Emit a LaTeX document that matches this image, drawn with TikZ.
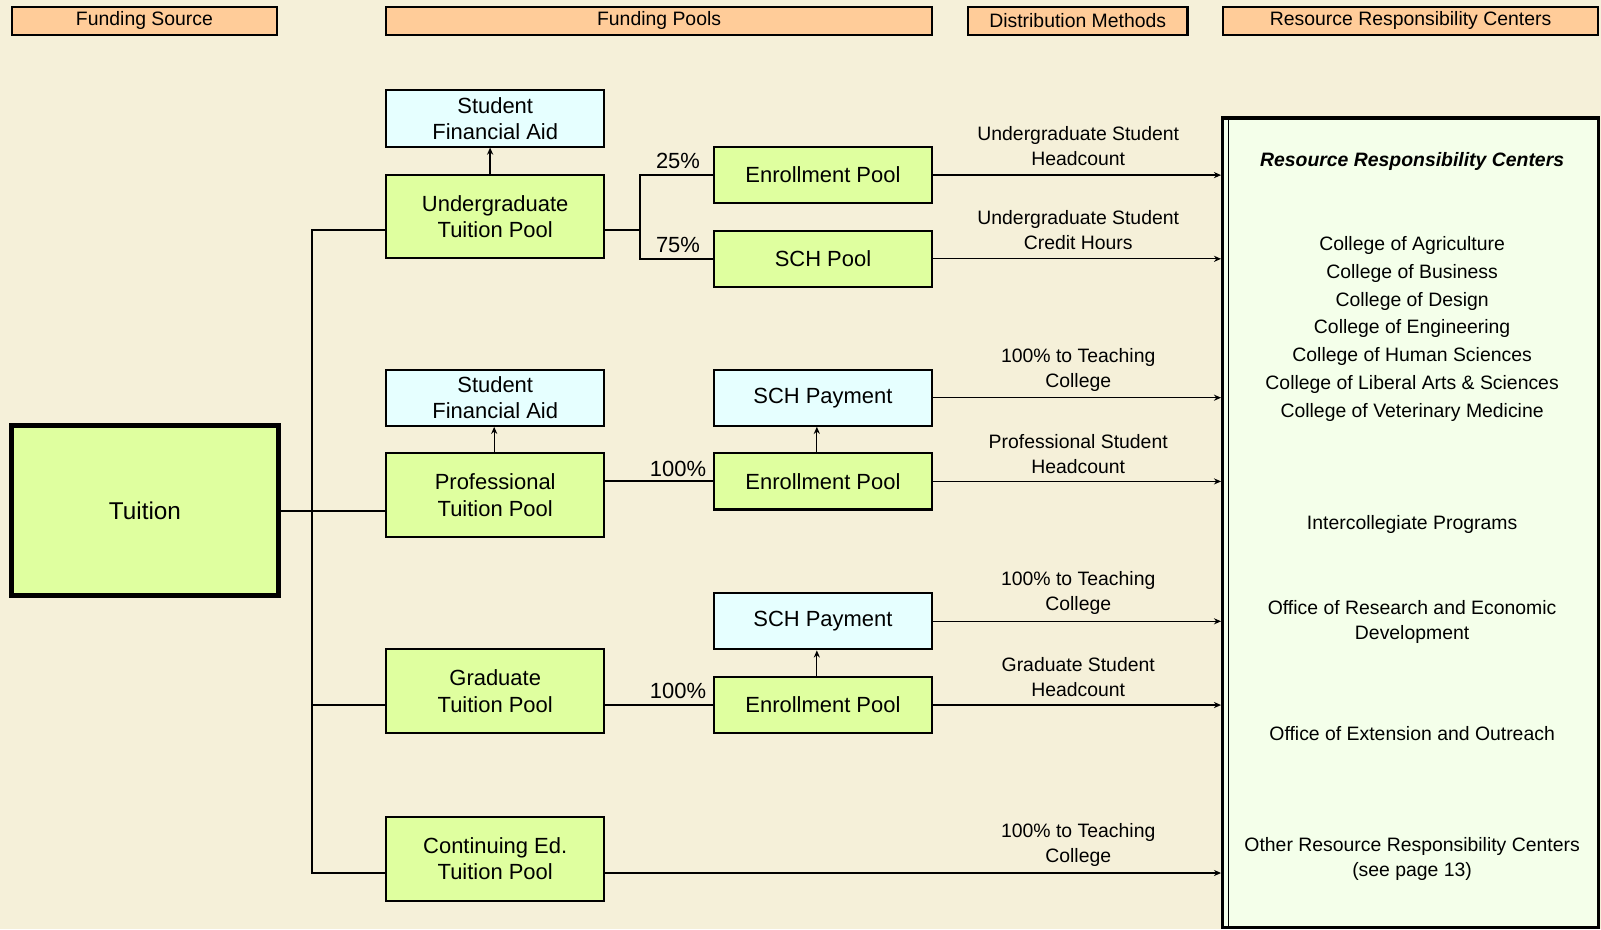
\documentclass[tikz,border=0pt]{standalone}
\usepackage{fontspec}
\setmainfont{Liberation Sans}
\usetikzlibrary{arrows.meta}
\definecolor{bgc}{HTML}{F5F0D9}
\definecolor{hdr}{HTML}{FFCC99}
\definecolor{lime}{HTML}{DFFF9F}
\definecolor{cyanb}{HTML}{E6FFFF}
\definecolor{rrcf}{HTML}{F4FFEA}
\tikzset{
  hdrbox/.style={draw=black, fill=hdr, line width=1pt, inner sep=0pt, minimum height=13.5pt, font=\fontsize{9.5}{11}\selectfont},
  gbox/.style={draw=black, fill=lime, line width=1pt, inner sep=0pt, minimum width=107pt, align=center, font=\fontsize{10.75}{13}\selectfont},
  cbox/.style={gbox, fill=cyanb},
  tall/.style={minimum height=41pt},
  short/.style={minimum height=27.5pt},
  conn/.style={line width=1pt},
  arr/.style={line width=0.6pt, -{Stealth[length=3.5pt,width=3pt]}},
  pct/.style={inner sep=0pt, font=\fontsize{10.75}{13}\selectfont},
  lbl/.style={inner sep=0pt, align=center, font=\fontsize{9.5}{12}\selectfont},
  rtxt/.style={inner sep=0pt, align=center, font=\fontsize{9.5}{12}\selectfont},
}
\begin{document}
\begin{tikzpicture}[x=0.5pt, y=-0.5pt]
\fill[bgc] (0,0) rectangle (1568,910);
\useasboundingbox (0,0) rectangle (1568,910);

% headers
\node[hdrbox, minimum width=129.5pt] (h1) at (141.5,20.5) {Funding Source};
\node[hdrbox, minimum width=267.5pt] (h2) at (645.5,20.5) {Funding Pools};
\node[hdrbox, minimum width=107.5pt] (h3) at (1055.5,20.5) {Distribution Methods};
\node[hdrbox, minimum width=184pt] (h4) at (1381.5,20.5) {Resource Responsibility Centers};

% tuition
\node[gbox, minimum width=130pt, minimum height=82.5pt, line width=2pt, font=\fontsize{11.9}{14}\selectfont] (tu) at (142,500) {Tuition};
\draw[line width=0.6pt] (9.5,414.5) rectangle (274.5,585);

% pools
\node[cbox, short] (sfa1) at (485,116) {Student\\Financial Aid};
\node[gbox, tall] (ug) at (485,212) {Undergraduate\\Tuition Pool};
\node[gbox, short] (ep1) at (806,171.5) {Enrollment Pool};
\node[gbox, short] (sch) at (806,253.5) {SCH Pool};

\node[cbox, short] (sfa2) at (485,389.5) {Student\\Financial Aid};
\node[gbox, tall] (prof) at (485,485) {Professional\\Tuition Pool};
\node[cbox, short] (schp1) at (806,389.5) {SCH Payment};
\node[gbox, short] (ep2) at (806,471.5) {Enrollment Pool};

\node[cbox, short] (schp2) at (806,608.5) {SCH Payment};
\node[gbox, tall] (grad) at (485,677) {Graduate\\Tuition Pool};
\node[gbox, short] (ep3) at (806,690.5) {Enrollment Pool};

\node[gbox, tall] (ce) at (485,841) {Continuing Ed.\\Tuition Pool};

% right box
\node[draw=black, fill=rrcf, line width=1.6pt, inner sep=0pt, minimum width=184pt, minimum height=396.5pt] (rrc) at (1381.5,512) {};
\draw[line width=0.5pt] (1203,117) -- (1203,907);

% trunk connectors
\draw[conn] (tu.east) -- (tu.east -| prof.west);
\draw[conn] (ug.west |- 0,225) -- (306,225) -- (306,855) -- (ce.west |- 0,855);
\draw[conn] (306,690) -- (grad.west |- 0,690);

% splits
\draw[conn] (ug.east |- 0,225) -- (627,225);
\draw[conn] (ep1.west) -- (627,171.5) -- (627,253.5) -- (sch.west);
\draw[conn] (ep2.west -| prof.east) -- (ep2.west);
\draw[conn] (ep3.west -| grad.east) -- (ep3.west);

% percent labels
\node[pct] (p25) at (664,158) {25\%};
\node[pct] (p75) at (664,240) {75\%};
\node[pct] (p100a) at (664,459) {100\%};
\node[pct] (p100b) at (664,677) {100\%};

% up arrows
\draw[arr] (ug.north -| 480,0) -- (sfa1.south -| 480,0);
\draw[arr] (prof.north -| 484,0) -- (sfa2.south -| 484,0);
\draw[arr] (ep2.north -| 800,0) -- (schp1.south -| 800,0);
\draw[arr] (ep3.north -| 800,0) -- (schp2.south -| 800,0);

% right arrows
\draw[arr] (ep1.east) -- (ep1.east -| rrc.west);
\draw[arr] (sch.east) -- (sch.east -| rrc.west);
\draw[arr] (schp1.east) -- (schp1.east -| rrc.west);
\draw[arr] (ep2.east) -- (ep2.east -| rrc.west);
\draw[arr] (schp2.east) -- (schp2.east -| rrc.west);
\draw[arr] (ep3.east) -- (ep3.east -| rrc.west);
\draw[arr] (ce.east |- 0,855) -- (rrc.west |- 0,855);

% distribution labels
\node[lbl] (l1) at (1056,143) {Undergraduate Student\\Headcount};
\node[lbl] (l2) at (1056,225.5) {Undergraduate Student\\Credit Hours};
\node[lbl] (l3) at (1056,362.5) {100\% to Teaching\\College};
\node[lbl] (l4) at (1056,444.5) {Professional Student\\Headcount};
\node[lbl] (l5) at (1056,581) {100\% to Teaching\\College};
\node[lbl] (l6) at (1056,663) {Graduate Student\\Headcount};
\node[lbl] (l7) at (1056,827.5) {100\% to Teaching\\College};

% right box contents
\node[rtxt, font=\fontsize{9.5}{12}\selectfont\bfseries\itshape] (t0) at (1383,158) {Resource Responsibility Centers};
\node[rtxt, font=\fontsize{9.5}{13.6}\selectfont] (t1) at (1383,322) {College of Agriculture\\College of Business\\College of Design\\College of Engineering\\College of Human Sciences\\College of Liberal Arts \& Sciences\\College of Veterinary Medicine};
\node[rtxt] (t2) at (1383,514) {Intercollegiate Programs};
\node[rtxt] (t3) at (1383,609) {Office of Research and Economic\\Development};
\node[rtxt] (t4) at (1383,718) {Office of Extension and Outreach};
\node[rtxt] (t5) at (1383,841.5) {Other Resource Responsibility Centers\\(see page 13)};
\end{tikzpicture}
\end{document}
